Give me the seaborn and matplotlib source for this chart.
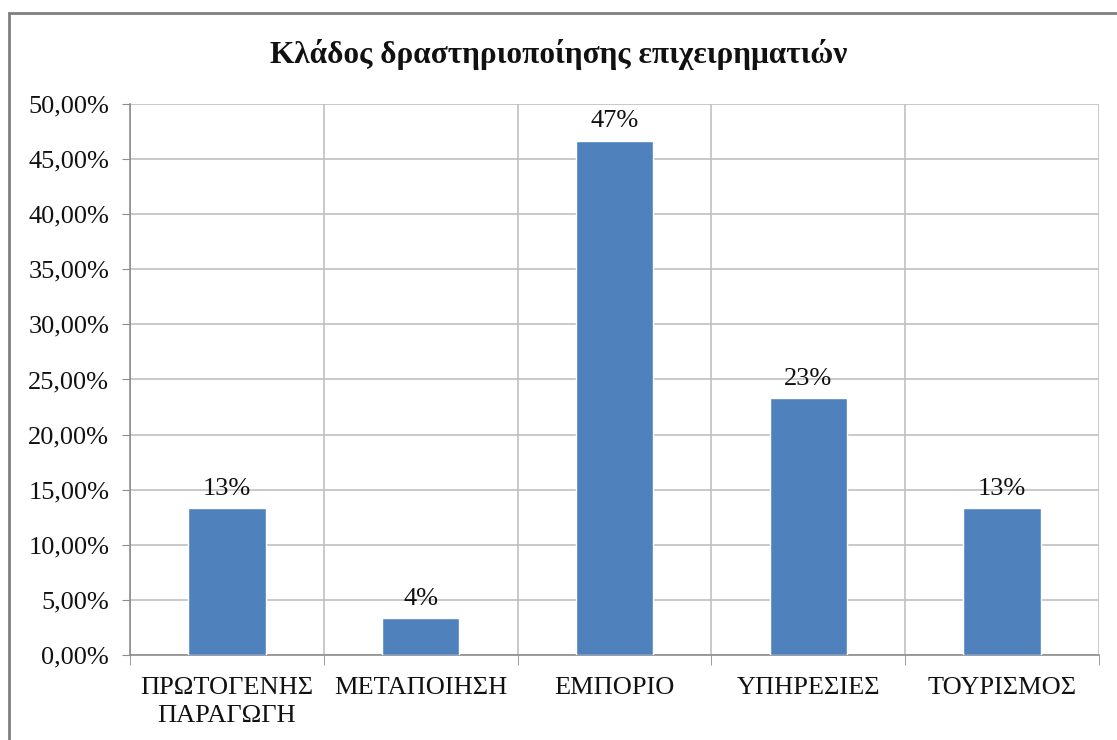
import numpy as np
import pandas as pd
import matplotlib
matplotlib.use("Agg")
import matplotlib.pyplot as plt
import seaborn as sns
from matplotlib.ticker import FuncFormatter, MultipleLocator, FixedLocator
from matplotlib.patches import Rectangle

categories = ["ΠΡΩΤΟΓΕΝΗΣ\nΠΑΡΑΓΩΓΗ", "ΜΕΤΑΠΟΙΗΣΗ", "ΕΜΠΟΡΙΟ", "ΥΠΗΡΕΣΙΕΣ", "ΤΟΥΡΙΣΜΟΣ"]
shares = [13.33, 3.33, 46.67, 23.33, 13.33]
bar_labels = ["13%", "4%", "47%", "23%", "13%"]
title = "Κλάδος δραστηριοποίησης επιχειρηματιών"

sns.set_style("white")
plt.rcParams['font.family'] = ['Liberation Serif', 'DejaVu Serif']

df = pd.DataFrame({"cat": categories, "share": shares})

fig = plt.figure(figsize=(11.17, 7.40), dpi=100)
ax = fig.add_axes([0.1164, 0.1149, 0.8675, 0.7446])

sns.barplot(data=df, x="cat", y="share", color="#4F81BD", width=0.4,
            saturation=1, ax=ax, zorder=3)

for i, (v, lab) in enumerate(zip(shares, bar_labels)):
    ax.annotate(lab, (i, v), xytext=(0, 6), textcoords="offset points",
                ha="center", va="bottom", fontsize=19, color="#111111")

ax.set_xlim(-0.5, len(categories) - 0.5)
ax.set_ylim(0, 50)
ax.yaxis.set_major_locator(MultipleLocator(5))
ax.yaxis.set_major_formatter(FuncFormatter(lambda v, p: f"{v:.2f}".replace(".", ",") + "%"))
ax.xaxis.set_minor_locator(FixedLocator(np.arange(-0.5, len(categories), 1.0)))

ax.grid(axis="y", which="major", color="#C0C0C0", linewidth=1.2, zorder=0)
ax.grid(axis="x", which="minor", color="#C0C0C0", linewidth=1.2, zorder=0)
ax.set_axisbelow(True)

for s in ["top", "right"]:
    ax.spines[s].set_visible(False)
for s in ["left", "bottom"]:
    ax.spines[s].set_color("#8C8C8C")
    ax.spines[s].set_linewidth(1.2)

ax.tick_params(axis="y", which="major", left=True, length=6, color="#8C8C8C",
               labelsize=19, labelcolor="#111111", pad=9)
ax.tick_params(axis="x", which="major", bottom=False, labelsize=19,
               labelcolor="#111111", pad=12)
ax.tick_params(axis="x", which="minor", bottom=True, length=7, color="#8C8C8C")
for t in ax.get_xticklabels():
    t.set_linespacing(1.4)

ax.set_xlabel("")
ax.set_ylabel("")

fig.text(0.5, 0.926, title, ha="center", va="center", fontsize=22.5,
         fontweight="bold", color="#111111")

# outer chart frame, cut by the image edge on the right and bottom
fig.patches.append(Rectangle((9 / 1117, -0.05), 1.2, (740 - 13) / 740 + 0.05,
                             transform=fig.transFigure, fill=False,
                             edgecolor="#7F7F7F", linewidth=2, zorder=10))

fig.savefig("out.png", dpi=100)
